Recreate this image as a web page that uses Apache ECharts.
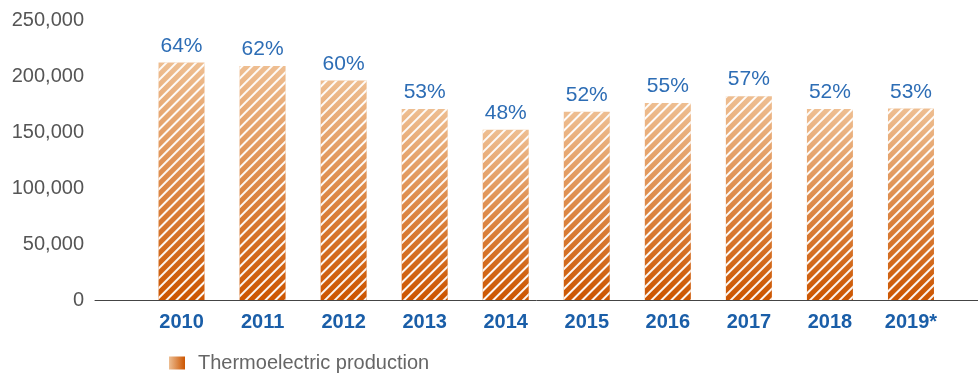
<!DOCTYPE html>
<html>
<head>
<meta charset="utf-8">
<script src="https://cdn.jsdelivr.net/npm/echarts@6/dist/echarts.min.js"></script>
<style>
html,body{margin:0;padding:0;background:#fff;}
#chart{width:978px;height:376px;}
</style>
</head>
<body>
<div id="chart"></div>
<script>
var categories = ['2010','2011','2012','2013','2014','2015','2016','2017','2018','2019*'];
var production = [212000, 209000, 196000, 170500, 152000, 168000, 176000, 182000, 170500, 171000];
var shares = ['64%','62%','60%','53%','48%','52%','55%','57%','52%','53%'];
var yTicks = [0, 50000, 100000, 150000, 200000, 250000];
var seriesName = 'Thermoelectric production';

var chart = echarts.init(document.getElementById('chart'), null, {renderer:'canvas'});
var yMin = yTicks[0], yMax = yTicks[yTicks.length-1], yStep = yTicks[1]-yTicks[0];
var fontFam = '"Liberation Sans", Arial, Helvetica, sans-serif';

chart.setOption({
  animation: false,
  backgroundColor: '#fff',
  grid: [
    {left: 141, right: 26.5, top: 20, bottom: 76},
    {left: 95, right: 0, top: 20, bottom: 76}
  ],
  legend: {
    left: 164, top: 348,
    itemWidth: 16, itemHeight: 13,
    icon: 'rect',
    textStyle: {color: '#666', fontSize: 20, fontFamily: fontFam, padding: [0,0,0,8]},
    data: [{
      name: seriesName,
      itemStyle: {
        decal: 'none',
        color: new echarts.graphic.LinearGradient(0,0,1,0,[{offset:0,color:'#EDBE93'},{offset:1,color:'#CC5500'}])
      }
    }]
  },
  xAxis: [
    {
      type: 'category', gridIndex: 0, data: categories,
      axisLine: {show: false}, axisTick: {show: false},
      axisLabel: {color: '#1A5EA8', fontWeight: 'bold', fontSize: 20, fontFamily: fontFam, margin: 12}
    },
    {
      type: 'category', gridIndex: 1, data: [''],
      axisLine: {show: true, lineStyle: {color: '#444', width: 1}},
      axisTick: {show: false}, axisLabel: {show: false}
    }
  ],
  yAxis: [
    {
      type: 'value', gridIndex: 0, min: yMin, max: yMax, interval: yStep,
      show: false, splitLine: {show: false}
    },
    {
      type: 'value', gridIndex: 1, min: yMin, max: yMax, interval: yStep,
      axisLine: {show: false}, axisTick: {show: false}, splitLine: {show: false},
      axisLabel: {
        color: '#555', fontSize: 20, fontFamily: fontFam, margin: 11,
        formatter: function(v){ return v.toLocaleString('en-US'); }
      }
    }
  ],
  series: [{
    name: seriesName,
    type: 'bar',
    xAxisIndex: 0, yAxisIndex: 0,
    data: production,
    barWidth: 46,
    itemStyle: {
      color: new echarts.graphic.LinearGradient(0,0,0,1,[{offset:0,color:'#EEBE91'},{offset:1,color:'#CC5500'}]),
      decal: {
        symbol: 'rect', symbolSize: 1, color: 'rgba(255,255,255,0.95)',
        dashArrayX: [1, 0], dashArrayY: [2, 5], rotation: -Math.PI/4
      }
    },
    label: {
      show: true, position: 'top', distance: 6,
      color: '#2D6DB5', fontSize: 21, fontFamily: fontFam,
      formatter: function(p){ return shares[p.dataIndex]; }
    }
  }]
});
</script>
</body>
</html>
